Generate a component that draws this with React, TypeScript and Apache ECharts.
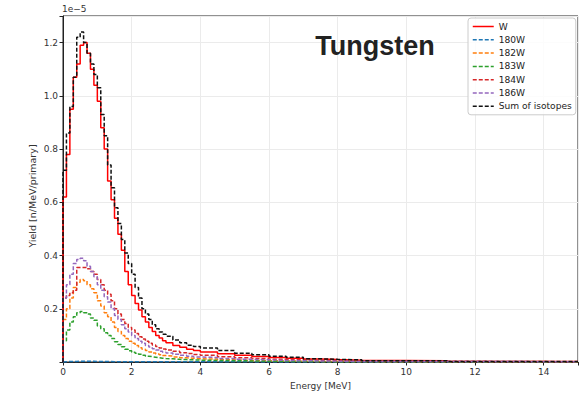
import React, { useEffect, useRef } from "react";
import * as echarts from "echarts";

// Bin start energies [MeV]
const energyBins = [
  0, 0.1, 0.2, 0.3, 0.4, 0.5, 0.6, 0.7, 0.8, 0.9, 1.0, 1.1, 1.2, 1.3, 1.4, 1.5, 1.6, 1.7, 1.8, 1.9,
  2.0, 2.1, 2.2, 2.3, 2.4, 2.5, 2.6, 2.7, 2.8, 2.9,
  3.0, 3.2, 3.4, 3.6, 3.8, 4.0,
  4.5, 5.0, 5.5, 6.0, 6.5, 7.0, 7.5, 8.0,
  8.7, 11.2,
];
const xMaxEnergy = 15;

// Yields in units of 1e-5 n/MeV/primary
const yieldW = [
  0.62, 0.78, 0.95, 1.07, 1.12, 1.19, 1.2, 1.16, 1.1, 1.04, 0.98, 0.88, 0.8, 0.68, 0.61, 0.54, 0.48, 0.42, 0.34, 0.29,
  0.25, 0.22, 0.195, 0.17, 0.15, 0.13, 0.115, 0.1, 0.09, 0.08,
  0.072, 0.062, 0.055, 0.048, 0.043, 0.038,
  0.031, 0.025, 0.021, 0.017, 0.014, 0.011, 0.009, 0.007,
  0.005, 0.002,
];
const yield180W = [
  0.001, 0.002, 0.002, 0.002, 0.003, 0.003, 0.003, 0.003, 0.003, 0.002, 0.002, 0.002, 0.002, 0.002, 0.001, 0.001, 0.001, 0.001, 0.001, 0.001,
  0.001, 0.001, 0.001, 0.001, 0.001, 0.001, 0.001, 0.001, 0.001, 0.001,
  0.001, 0.0005, 0.0005, 0.0005, 0.0005, 0.0005,
  0.0005, 0.0005, 0.0003, 0.0003, 0.0003, 0.0002, 0.0002, 0.0002,
  0.0001, 0.0001,
];
const yield182W = [
  0.16, 0.2, 0.24, 0.28, 0.3, 0.31, 0.305, 0.29, 0.275, 0.26, 0.23, 0.21, 0.185, 0.17, 0.15, 0.13, 0.115, 0.1, 0.088, 0.078,
  0.07, 0.062, 0.054, 0.048, 0.043, 0.038, 0.034, 0.03, 0.027, 0.024,
  0.022, 0.019, 0.016, 0.014, 0.012, 0.011,
  0.008, 0.006, 0.005, 0.004, 0.003, 0.002, 0.002, 0.0015,
  0.001, 0.0005,
];
const yield183W = [
  0.08, 0.12, 0.15, 0.17, 0.185, 0.19, 0.185, 0.18, 0.165, 0.157, 0.135, 0.125, 0.11, 0.1, 0.088, 0.076, 0.066, 0.057, 0.048, 0.042,
  0.037, 0.033, 0.029, 0.025, 0.022, 0.02, 0.018, 0.016, 0.014, 0.013,
  0.012, 0.01, 0.009, 0.008, 0.007, 0.006,
  0.005, 0.004, 0.003, 0.0025, 0.002, 0.0015, 0.001, 0.001,
  0.0007, 0.0003,
];
const yield184W = [
  0.24, 0.25, 0.26, 0.27, 0.355, 0.355, 0.355, 0.35, 0.34, 0.33, 0.31, 0.29, 0.27, 0.255, 0.23, 0.2, 0.18, 0.16, 0.145, 0.13,
  0.12, 0.107, 0.095, 0.086, 0.078, 0.07, 0.064, 0.058, 0.053, 0.049,
  0.045, 0.04, 0.035, 0.032, 0.028, 0.025,
  0.02, 0.016, 0.013, 0.01, 0.008, 0.006, 0.005, 0.004,
  0.003, 0.001,
];
const yield186W = [
  0.24, 0.29, 0.33, 0.37, 0.385, 0.39, 0.38, 0.36, 0.34, 0.32, 0.29, 0.27, 0.245, 0.225, 0.2, 0.175, 0.16, 0.14, 0.125, 0.113,
  0.1, 0.088, 0.078, 0.07, 0.062, 0.056, 0.05, 0.045, 0.04, 0.037,
  0.034, 0.029, 0.025, 0.022, 0.019, 0.017,
  0.013, 0.01, 0.008, 0.006, 0.005, 0.004, 0.003, 0.002,
  0.002, 0.001,
];
const yieldSum = [
  0.72, 0.86, 0.96, 1.07, 1.22, 1.24, 1.2, 1.16, 1.12, 1.08, 1.03, 0.93, 0.85, 0.74, 0.655, 0.58, 0.52, 0.46, 0.41, 0.37,
  0.33, 0.28, 0.24, 0.2, 0.18, 0.16, 0.14, 0.125, 0.113, 0.104,
  0.097, 0.083, 0.072, 0.063, 0.058, 0.053,
  0.043, 0.033, 0.027, 0.022, 0.018, 0.012, 0.01, 0.008,
  0.005, 0.002,
];

const seriesNames = ["W", "180W", "182W", "183W", "184W", "186W", "Sum of isotopes"];
const seriesValues = [yieldW, yield180W, yield182W, yield183W, yield184W, yield186W, yieldSum];
const seriesColors = ["#ff0000", "#1f77b4", "#ff7f0e", "#2ca02c", "#d62728", "#9467bd", "#111111"];
const seriesDashed = [false, true, true, true, true, true, true];

const yTickLabels = ["0.2", "0.4", "0.6", "0.8", "1.0", "1.2"];
const xTickLabels = ["0", "2", "4", "6", "8", "10", "12", "14"];

const FONT = "DejaVu Sans";

function histData(vals: number[]) {
  const pts: number[][] = [[0, 0]];
  energyBins.forEach((e, i) => pts.push([e, vals[i]]));
  pts.push([xMaxEnergy, vals[vals.length - 1]]);
  return pts;
}

export default function App() {
  const ref = useRef<HTMLDivElement>(null);
  useEffect(() => {
    const chart = echarts.init(ref.current!, null, { renderer: "svg" });
    const series = seriesNames.map((name, i) => ({
      name,
      type: "line",
      step: "end",
      data: histData(seriesValues[i]),
      symbol: "none",
      showSymbol: false,
      color: seriesColors[i],
      itemStyle: { color: seriesColors[i] },
      lineStyle: {
        color: seriesColors[i],
        width: 1.5,
        type: seriesDashed[i] ? [4, 2] : "solid",
      },
      z: 2 + i,
    }));
    chart.setOption({
      animation: false,
      backgroundColor: "#ffffff",
      grid: {
        left: 63,
        top: 16,
        right: -1.6,
        bottom: 33,
        show: true,
        borderColor: "#222",
        borderWidth: 1,
        backgroundColor: "transparent",
      },
      legend: {
        data: seriesNames,
        orient: "vertical",
        left: 468,
        top: 18,
        itemWidth: 21,
        itemHeight: 10,
        itemGap: 4.3,
        padding: [4, 4, 4, 4],
        backgroundColor: "rgba(255,255,255,0.85)",
        borderColor: "#cccccc",
        borderWidth: 1,
        borderRadius: 3,
        itemStyle: { opacity: 0, borderWidth: 0 },
        lineStyle: { width: 1.5, opacity: 1 },
        textStyle: { fontFamily: FONT, fontSize: 9.1, color: "#222" },
      },
      graphic: [
        {
          type: "text",
          left: 62,
          top: 4,
          style: { text: "1e\u22125", fontFamily: FONT, fontSize: 9, fill: "#333" },
        },
        {
          type: "text",
          x: 32.5,
          y: 196,
          rotation: Math.PI / 2,
          style: {
            text: "Yield [n/MeV/primary]",
            fontFamily: FONT,
            fontSize: 9.5,
            fill: "#333",
            align: "center",
            verticalAlign: "middle",
          },
        },
        {
          type: "text",
          x: 375,
          y: 46,
          style: {
            text: "Tungsten",
            fontFamily: "Liberation Sans",
            fontWeight: "bold",
            fontSize: 27,
            fill: "#222",
            align: "center",
            verticalAlign: "middle",
          },
          z: 100,
        },
      ],
      xAxis: {
        type: "value",
        min: 0,
        max: xMaxEnergy,
        interval: 2,
        name: "Energy [MeV]",
        nameLocation: "middle",
        nameGap: 19,
        nameTextStyle: { fontFamily: FONT, fontSize: 9, color: "#333" },
        axisLine: { show: true, lineStyle: { color: "#222", width: 1 } },
        axisTick: { show: true, length: 3.5, lineStyle: { color: "#222" } },
        axisLabel: {
          fontFamily: FONT,
          fontSize: 9,
          color: "#333",
          margin: 5,
          formatter: (v: number) => {
            const s = String(Math.round(v));
            return Math.abs(v - Math.round(v)) < 1e-6 && xTickLabels.includes(s) ? s : "";
          },
        },
        splitLine: { show: true, lineStyle: { color: "#ebebeb", width: 1 } },
      },
      yAxis: {
        type: "value",
        min: 0,
        max: 1.3,
        interval: 0.2,
        axisLine: { show: true, lineStyle: { color: "#222", width: 1 } },
        axisTick: { show: true, length: 3.5, lineStyle: { color: "#222" } },
        axisLabel: {
          fontFamily: FONT,
          fontSize: 9,
          color: "#333",
          margin: 5,
          formatter: (v: number) => {
            const s = v.toFixed(1);
            return yTickLabels.includes(s) && Math.abs(v - parseFloat(s)) < 1e-6 ? s : "";
          },
        },
        splitLine: { show: true, lineStyle: { color: "#ebebeb", width: 1 } },
      },
      series,
    });
    return () => chart.dispose();
  }, []);
  return (
    <div
      ref={ref}
      style={{ width: 581, height: 395, position: "absolute", left: 0, top: 0 }}
    />
  );
}
